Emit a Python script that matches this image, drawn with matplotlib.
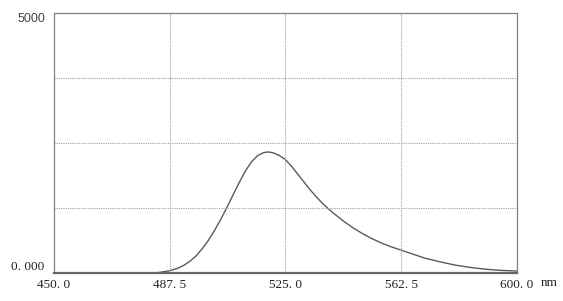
import matplotlib
matplotlib.use("Agg")
import matplotlib.pyplot as plt

# emission spectrum (nm, intensity)
wavelength = [480, 484, 487.5, 490, 492, 494, 496, 498, 500, 502, 504, 506, 508,
              510, 512, 514, 516, 518, 519.5, 521, 523, 525, 527, 529, 531, 533,
              535, 537, 539, 541, 544, 547, 550, 553, 556, 559, 562, 566, 570,
              575, 580, 585, 590, 595, 600]
intensity = [0, 15, 50, 95, 150, 230, 330, 470, 630, 820, 1030, 1260, 1500,
             1740, 1960, 2140, 2260, 2320, 2330, 2315, 2265, 2185, 2055, 1905,
             1755, 1605, 1470, 1345, 1235, 1135, 995, 870, 762, 667, 585, 515,
             455, 375, 295, 222, 158, 112, 78, 56, 44]

x_ticks = [450.0, 487.5, 525.0, 562.5, 600.0]
x_labels = ["450. 0", "487. 5", "525. 0", "562. 5", "600. 0"]
y_ticks = [0, 5000]
y_labels = ["0. 000", "5000"]
y_grid = [1250, 2500, 3750]

fig = plt.figure(figsize=(5.63, 3.01), dpi=100)
ax = fig.add_axes([0.0959, 0.092, 0.822, 0.865])

ax.plot(wavelength, intensity, color="#5a5a5a", lw=1.0)
ax.set_xlim(450, 600)
ax.set_ylim(0, 5000)

# dotted grid
for gx in x_ticks[1:-1]:
    ax.axvline(gx, color="#a0a0a0", lw=0.8, ls=(0, (1, 1)))
for gy in y_grid:
    ax.axhline(gy, color="#a0a0a0", lw=0.8, ls=(0, (1, 1)))

for s in ax.spines.values():
    s.set_color("#808080")
    s.set_linewidth(0.9)
ax.spines["bottom"].set_color("#666666")
ax.spines["bottom"].set_linewidth(1.6)

serif = dict(family=["Liberation Serif", "DejaVu Serif"], size=9.5, color="#222222")
ax.set_xticks(x_ticks)
ax.set_xticklabels(x_labels, **serif)
ax.tick_params(axis="x", length=0, pad=4)
ax.set_yticks([])

# y labels: bottom one in the serif face, top one in a sans face
ytr = ax.get_yaxis_transform()
ax.text(-0.022, y_ticks[0], y_labels[0], transform=ytr, ha="right", va="bottom", **serif)
ax.text(-0.018, y_ticks[1], y_labels[1], transform=ytr, ha="right", va="top",
        family=["Liberation Sans", "DejaVu Sans"], size=9, color="#444444")

ax.text(1.052, -0.037, "nm", transform=ax.transAxes, ha="left", va="center", **serif)

fig.savefig("out.png", dpi=100)
